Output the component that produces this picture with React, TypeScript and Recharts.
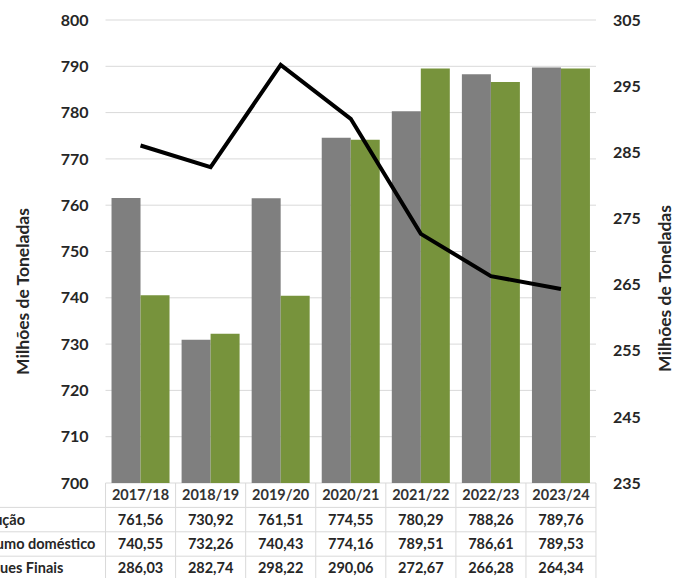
import { ComposedChart, Bar, Line, XAxis, YAxis, CartesianGrid, Label } from 'recharts';

const safras = ['2017/18', '2018/19', '2019/20', '2020/21', '2021/22', '2022/23', '2023/24'];
const producao = [761.56, 730.92, 761.51, 774.55, 780.29, 788.26, 789.76];
const consumo = [740.55, 732.26, 740.43, 774.16, 789.51, 786.61, 789.53];
const estoques = [286.03, 282.74, 298.22, 290.06, 272.67, 266.28, 264.34];
const leftTicks = [700, 710, 720, 730, 740, 750, 760, 770, 780, 790, 800];
const rightTicks = [235, 245, 255, 265, 275, 285, 295, 305];
const rowLabels = ['Produção', 'Consumo doméstico', 'Estoques Finais'];

const data = safras.map((safra, i) => ({
  safra,
  producao: producao[i],
  consumo: consumo[i],
  estoques: estoques[i],
}));

const FONT = 'Lato, "Open Sans", sans-serif';
const TEXT = '#262626';
const BORDER = '#d9d9d9';

const fmt = (v: number) => v.toFixed(2).replace('.', ',');

function TableTick(props: any) {
  const { x, y, payload, index } = props;
  const half = 35;
  const rowH = 24.4;
  const rows = [producao, consumo, estoques];
  const i = payload.index ?? index;
  return (
    <g fontFamily={FONT} fontWeight={700} fontSize={14.5} fill={TEXT}>
      <line x1={x - half} x2={x - half} y1={y} y2={y + rowH * 4 + 4} stroke={BORDER} />
      {i === safras.length - 1 && (
        <line x1={x + half} x2={x + half} y1={y} y2={y + rowH * 4 + 4} stroke={BORDER} />
      )}
      {[1, 2, 3, 4].map((r) => (
        <line key={r} x1={x - half} x2={x + half} y1={y + rowH * r} y2={y + rowH * r} stroke={BORDER} />
      ))}
      <text x={x} y={y + rowH * 0.5 + 5} textAnchor="middle" fill="#333">
        {payload.value}
      </text>
      {rows.map((vals, r) => (
        <text key={r} x={x} y={y + rowH * (r + 1.5) + 5} textAnchor="middle">
          {fmt(vals[i])}
        </text>
      ))}
      {i === 0 && (
        <g>
          {[1, 2, 3, 4].map((r) => (
            <line key={r} x1={0} x2={x - half} y1={y + rowH * r} y2={y + rowH * r} stroke={BORDER} />
          ))}
          {rowLabels.map((lbl, r) => (
            <text key={lbl} x={x - half - 142} y={y + rowH * (r + 1.5) + 5} textAnchor="start">
              {lbl}
            </text>
          ))}
        </g>
      )}
    </g>
  );
}

function AxisTitle({ cx, cy }: { cx: number; cy: number }) {
  return (
    <text
      x={cx}
      y={cy}
      transform={`rotate(-90 ${cx} ${cy})`}
      textAnchor="middle"
      dominantBaseline="central"
      fontFamily={FONT}
      fontWeight={700}
      fontSize={17.5}
      fill={TEXT}
    >
      Milhões de Toneladas
    </text>
  );
}

export default function App() {
  const tickStyle = { fill: TEXT, fontSize: 16, fontWeight: 700, fontFamily: FONT };
  return (
    <div style={{ position: 'absolute', left: 0, top: 0, width: 673, height: 578, background: '#fff' }}>
      <ComposedChart
        width={673}
        height={578}
        data={data}
        margin={{ top: 20, right: 0, bottom: 0, left: 0 }}
        barGap={0}
        barCategoryGap="8.6%"
      >
        <CartesianGrid yAxisId="left" vertical={false} stroke={BORDER} />
        <XAxis
          dataKey="safra"
          height={95}
          axisLine={false}
          tickLine={false}
          tickSize={0}
          tickMargin={0}
          interval={0}
          tick={<TableTick />}
        />
        <YAxis
          yAxisId="left"
          width={105.5}
          domain={[700, 800]}
          ticks={leftTicks}
          axisLine={false}
          tickLine={false}
          tickSize={0}
          tickMargin={17}
          tick={tickStyle}
        >
          <Label content={(p: any) => <AxisTitle cx={22} cy={p.viewBox.y + p.viewBox.height / 2 + 40} />} />
        </YAxis>
        <YAxis
          yAxisId="right"
          orientation="right"
          width={77}
          domain={[235, 305]}
          ticks={rightTicks}
          axisLine={false}
          tickLine={false}
          tickSize={0}
          tickMargin={17}
          tick={tickStyle}
        >
          <Label content={(p: any) => <AxisTitle cx={664} cy={p.viewBox.y + p.viewBox.height / 2 + 37} />} />
        </YAxis>
        <Bar yAxisId="left" dataKey="producao" fill="#7f7f7f" isAnimationActive={false} />
        <Bar yAxisId="left" dataKey="consumo" fill="#77933c" isAnimationActive={false} />
        <Line
          yAxisId="right"
          dataKey="estoques"
          type="linear"
          stroke="#000"
          strokeWidth={4}
          dot={false}
          activeDot={false}
          isAnimationActive={false}
        />
      </ComposedChart>
    </div>
  );
}
